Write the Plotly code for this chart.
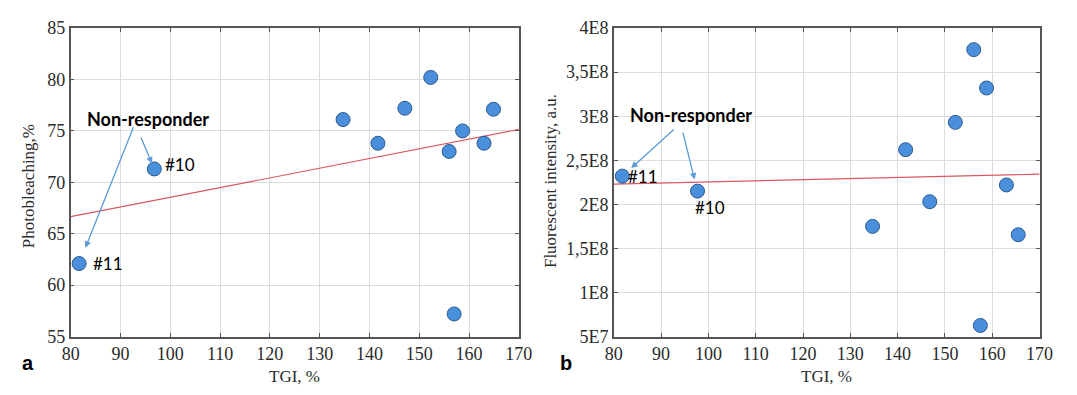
import numpy as np
import plotly.graph_objects as go

# ---------------- data ----------------
tgi_a = [81.7, 96.8, 134.7, 141.7, 147.1, 152.3, 156.0, 157.0, 158.7, 163.0, 164.9]
photobleaching = [62.1, 71.3, 76.1, 73.8, 77.2, 80.2, 73.0, 57.2, 75.0, 73.8, 77.1]

tgi_b = [81.8, 97.7, 134.7, 141.7, 146.8, 152.2, 156.1, 157.5, 158.8, 163.0, 165.5]
fluorescence = [2.32e8, 2.15e8, 1.75e8, 2.62e8, 2.03e8, 2.93e8, 3.755e8, 0.626e8, 3.32e8, 2.22e8, 1.655e8]

x_ticks = [80, 90, 100, 110, 120, 130, 140, 150, 160, 170]
ya_ticks = [55, 60, 65, 70, 75, 80, 85]
yb_ticks = [5e7, 1e8, 1.5e8, 2e8, 2.5e8, 3e8, 3.5e8, 4e8]
yb_ticktext = ["5E7", "1E8", "1,5E8", "2E8", "2,5E8", "3E8", "3,5E8", "4E8"]

idx11, idx10 = 0, 1
label11, label10 = "#11", "#10"
nonresp = "Non-responder"
x_title = "TGI, %"
ya_title = "Photobleaching,%"
yb_title = "Fluorescent intensity, a.u."

# ---------------- styles ----------------
W, H = 1077, 395
MARK = "#4A8FDB"
MARK_LINE = "#2C5A8F"
FIT = "#D9575F"
ARROW = "#5B9BD5"
SERIF = "Liberation Serif"
SANS = "Lato"

fit_x = np.array([80.0, 170.0])
pa = np.polyfit(tgi_a, photobleaching, 1)
pb = np.polyfit(tgi_b, fluorescence, 1)

fig = go.Figure()
fig.add_trace(go.Scatter(x=fit_x, y=np.polyval(pa, fit_x), mode="lines",
                         line=dict(color=FIT, width=1.1), xaxis="x", yaxis="y",
                         showlegend=False, hoverinfo="skip"))
fig.add_trace(go.Scatter(x=tgi_a, y=photobleaching, mode="markers",
                         marker=dict(size=14, color=MARK, line=dict(color=MARK_LINE, width=1)),
                         xaxis="x", yaxis="y", showlegend=False))
fig.add_trace(go.Scatter(x=fit_x, y=np.polyval(pb, fit_x), mode="lines",
                         line=dict(color=FIT, width=1.1), xaxis="x2", yaxis="y2",
                         showlegend=False, hoverinfo="skip"))
fig.add_trace(go.Scatter(x=tgi_b, y=fluorescence, mode="markers",
                         marker=dict(size=14, color=MARK, line=dict(color=MARK_LINE, width=1)),
                         xaxis="x2", yaxis="y2", showlegend=False))


def axis(**kw):
    d = dict(showgrid=True, gridcolor="#DCDCDC", gridwidth=1, zeroline=False,
             showline=True, linecolor="#555555", linewidth=1.5, mirror="ticks",
             ticks="inside", ticklen=4, tickcolor="#555555",
             tickfont=dict(family=SERIF, size=18, color="#2A2A2A"))
    d.update(kw)
    return d


ydom = [1 - 344 / H, 1 - 19 / H]
fig.update_layout(
    width=W, height=H, margin=dict(l=0, r=0, t=0, b=0),
    font=dict(family=SERIF, size=17, color="#2A2A2A"),
    paper_bgcolor="white", plot_bgcolor="white",
    xaxis=axis(domain=[63 / W, 521 / W], range=[80, 170], tickvals=x_ticks, anchor="y"),
    yaxis=axis(domain=ydom, range=[55, 85], tickvals=ya_ticks, anchor="x"),
    xaxis2=axis(domain=[618 / W, 1053 / W], range=[80, 170], tickvals=x_ticks, anchor="y2"),
    yaxis2=axis(domain=ydom, range=[5e7, 4e8], tickvals=yb_ticks, ticktext=yb_ticktext, anchor="x2"),
)

ann = []
tfont = dict(family=SERIF, size=17, color="#2A2A2A")
# axis titles
ann.append(dict(text=x_title, xref="paper", yref="paper", x=(63 + 521) / 2 / W, y=1 - 386 / H,
                showarrow=False, font=tfont, xanchor="center", yanchor="middle"))
ann.append(dict(text=x_title, xref="paper", yref="paper", x=(618 + 1053) / 2 / W, y=1 - 386 / H,
                showarrow=False, font=tfont, xanchor="center", yanchor="middle"))
ann.append(dict(text=ya_title, xref="paper", yref="paper", x=20 / W, y=1 - 186 / H, textangle=-90,
                showarrow=False, font=tfont, xanchor="center", yanchor="middle"))
ann.append(dict(text=yb_title, xref="paper", yref="paper", x=554 / W, y=1 - 180 / H, textangle=-90,
                showarrow=False, font=tfont, xanchor="center", yanchor="middle"))
# panel letters
pfont = dict(family="Liberation Sans", size=20, color="black")
ann.append(dict(text="<b>a</b>", xref="paper", yref="paper", x=19 / W, y=1 - 372 / H,
                showarrow=False, font=pfont, xanchor="center", yanchor="middle"))
ann.append(dict(text="<b>b</b>", xref="paper", yref="paper", x=569 / W, y=1 - 372 / H,
                showarrow=False, font=pfont, xanchor="center", yanchor="middle"))

nfont = dict(family=SANS, size=18, color="black")
lfont = dict(family=SANS, size=17, color="black")
arrow_style = dict(showarrow=True, arrowhead=2, arrowsize=1, arrowwidth=1.3, arrowcolor=ARROW, text="")

# panel a annotations
ann.append(dict(text="<b>" + nonresp + "</b>", xref="x", yref="y", x=82.8, y=76.2,
                xanchor="left", yanchor="middle", showarrow=False, font=nfont))
ann.append(dict(xref="x", yref="y", x=tgi_a[idx11], y=photobleaching[idx11], ax=55, ay=-138,
                standoff=17, **arrow_style))
ann.append(dict(xref="x", yref="y", x=tgi_a[idx10], y=photobleaching[idx10], ax=-14, ay=-33,
                standoff=6, **arrow_style))
ann.append(dict(text=label10, xref="x", yref="y", x=tgi_a[idx10], y=photobleaching[idx10],
                xanchor="left", yanchor="middle", xshift=9, yshift=4, showarrow=False, font=lfont))
ann.append(dict(text=label11, xref="x", yref="y", x=tgi_a[idx11], y=photobleaching[idx11],
                xanchor="left", yanchor="middle", xshift=12, yshift=0, showarrow=False, font=lfont))

# panel b annotations
ann.append(dict(text="<b>" + nonresp + "</b>", xref="x2", yref="y2", x=83.0, y=3.015e8,
                xanchor="left", yanchor="middle", showarrow=False, font=nfont))
ann.append(dict(xref="x2", yref="y2", x=tgi_b[idx11], y=fluorescence[idx11], ax=53, ay=-48,
                standoff=12, **arrow_style))
ann.append(dict(xref="x2", yref="y2", x=tgi_b[idx10], y=fluorescence[idx10], ax=-15, ay=-60,
                standoff=12, **arrow_style))
ann.append(dict(text=label11, xref="x2", yref="y2", x=tgi_b[idx11], y=fluorescence[idx11],
                xanchor="left", yanchor="middle", xshift=4, yshift=0, showarrow=False, font=lfont))
ann.append(dict(text=label10, xref="x2", yref="y2", x=tgi_b[idx10], y=fluorescence[idx10],
                xanchor="left", yanchor="middle", xshift=-5, yshift=-16, showarrow=False, font=lfont))

fig.update_layout(annotations=ann)
fig.write_html("out.html")
